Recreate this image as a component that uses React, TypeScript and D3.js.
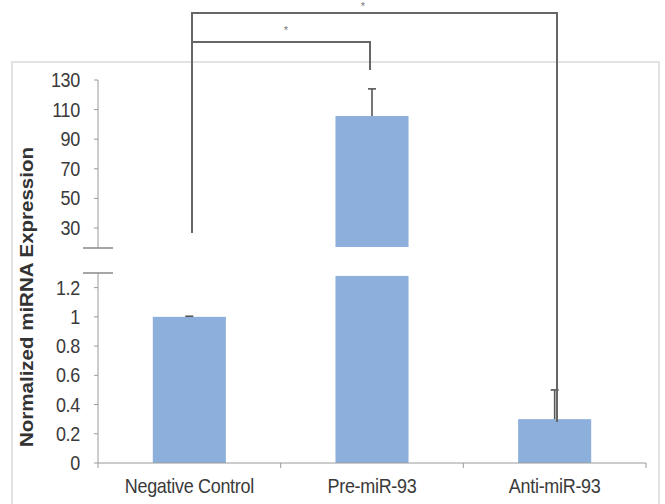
import React from "react";
import * as d3 from "d3";

const categories = ["Negative Control", "Pre-miR-93", "Anti-miR-93"];
const values = [1.0, 105.7, 0.3];
const errors = [0.004, 18.3, 0.2];
const upperTicks = [30, 50, 70, 90, 110, 130];
const lowerTicks = [0, 0.2, 0.4, 0.6, 0.8, 1, 1.2];
const lowerTickLabels = ["0", "0.2", "0.4", "0.6", "0.8", "1", "1.2"];
const yTitle = "Normalized miRNA Expression";

const W = 665;
const H = 504;
const axisX = 98;
const axisRight = 646;
const baseY = 463;
const lowerTop = 273;
const upperBottom = 248;
const upperTop = 80;
const FONT = "'Liberation Sans', Arial, sans-serif";
const TXT = "#3a3a3a";
const AX = "#9a9a9a";
const BAR = "#8cafdb";
const BR = "#666";

export default function App() {
  const x = d3.scaleBand<string>().domain(categories).range([axisX, axisRight]).padding(0);
  const bw = x.bandwidth() * 0.4;
  const yLow = d3.scaleLinear().domain([0, 1.3]).range([baseY, lowerTop]);
  const yUp = d3.scaleLinear().domain([16.5, 130]).range([upperBottom, upperTop]);
  const lowMax = 1.28;

  const cx = (c: string) => (x(c) as number) + x.bandwidth() / 2;

  const htext = (tx: number, ty: number, s: string, anchor: string, key?: string) => (
    <text
      key={key}
      transform={`translate(${tx},${ty}) scale(1,1.15)`}
      textAnchor={anchor}
      fontFamily={FONT}
      fontSize={18}
      fill={TXT}
      letterSpacing={-0.3}
    >
      {s}
    </text>
  );

  return (
    <svg width={W} height={H} style={{ position: "absolute", left: 0, top: 0, background: "#fff" }}>
      {/* frame */}
      <rect x={12} y={62} width={647} height={470} fill="none" stroke="#e2e2e2" strokeWidth={2} />

      {/* bars */}
      {categories.map((c, i) => {
        const v = values[i];
        const x0 = cx(c) - bw / 2;
        if (v > lowMax) {
          return (
            <g key={c}>
              <rect x={x0} y={yLow(lowMax)} width={bw} height={baseY - yLow(lowMax)} fill={BAR} />
              <rect x={x0} y={yUp(v)} width={bw} height={yUp(16.5) - yUp(v) - 1} fill={BAR} />
            </g>
          );
        }
        return <rect key={c} x={x0} y={yLow(v)} width={bw} height={baseY - yLow(v)} fill={BAR} />;
      })}

      {/* error bars */}
      {categories.map((c, i) => {
        const v = values[i];
        const e = errors[i];
        const s = v > lowMax ? yUp : yLow;
        const y1 = s(v);
        const y2 = s(v + e);
        return (
          <g key={"e" + c} stroke="#555" strokeWidth={1.6}>
            <line x1={cx(c)} x2={cx(c)} y1={y1} y2={y2} />
            <line x1={cx(c) - 4} x2={cx(c) + 4} y1={y2} y2={y2} />
          </g>
        );
      })}

      {/* y axis upper */}
      <line x1={axisX} x2={axisX} y1={upperTop} y2={upperBottom} stroke={AX} strokeWidth={1} />
      {upperTicks.map((t) => (
        <g key={"u" + t}>
          <line x1={axisX - 4} x2={axisX} y1={yUp(t)} y2={yUp(t)} stroke={AX} />
          {htext(80, yUp(t) + 7, String(t), "end")}
        </g>
      ))}
      {/* y axis lower */}
      <line x1={axisX} x2={axisX} y1={lowerTop} y2={baseY} stroke={AX} strokeWidth={1} />
      {lowerTicks.map((t, i) => (
        <g key={"l" + t}>
          <line x1={axisX - 4} x2={axisX} y1={yLow(t)} y2={yLow(t)} stroke={AX} />
          {htext(80, yLow(t) + 7, lowerTickLabels[i], "end")}
        </g>
      ))}
      {/* break marks */}
      <line x1={83} x2={113} y1={upperBottom} y2={upperBottom} stroke="#888" strokeWidth={1.5} />
      <line x1={83} x2={113} y1={lowerTop} y2={lowerTop} stroke="#888" strokeWidth={1.5} />

      {/* x axis */}
      <line x1={axisX} x2={axisRight} y1={baseY} y2={baseY} stroke={AX} strokeWidth={1} />
      {[...categories.map((c) => x(c) as number), axisRight].map((t, i) => (
        <line key={"xt" + i} x1={t} x2={t} y1={baseY} y2={baseY + 5} stroke={AX} />
      ))}
      {categories.map((c) => htext(cx(c), 493, c, "middle", "xl" + c))}

      {/* y title */}
      <text
        transform={`translate(33,297) rotate(-90)`}
        textAnchor="middle"
        fontFamily={FONT}
        fontSize={18}
        fontWeight="bold"
        fill="#333"
        textLength={300}
        lengthAdjust="spacingAndGlyphs"
      >
        {yTitle}
      </text>

      {/* significance brackets */}
      <polyline points={`192,233 192,13 557,13 557,422`} fill="none" stroke={BR} strokeWidth={2} />
      <polyline points={`192,42 370,42 370,70`} fill="none" stroke={BR} strokeWidth={2} />
      <text x={286} y={34} textAnchor="middle" fontFamily={FONT} fontSize={11} fill="#777">*</text>
      <text x={363} y={10} textAnchor="middle" fontFamily={FONT} fontSize={11} fill="#777">*</text>
    </svg>
  );
}
